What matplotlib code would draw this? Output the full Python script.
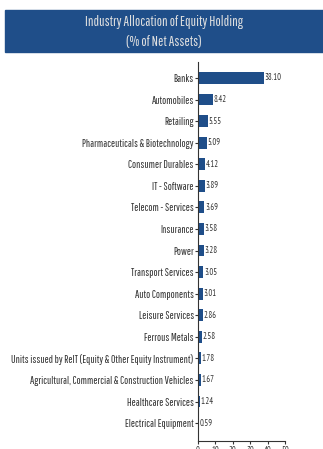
import matplotlib
matplotlib.use("Agg")
import matplotlib.pyplot as plt
from matplotlib.patches import Rectangle

categories = [
    "Banks", "Automobiles", "Retailing", "Pharmaceuticals & Biotechnology",
    "Consumer Durables", "IT - Software", "Telecom - Services", "Insurance",
    "Power", "Transport Services", "Auto Components", "Leisure Services",
    "Ferrous Metals", "Units issued by ReIT (Equity & Other Equity Instrument)",
    "Agricultural, Commercial & Construction Vehicles", "Healthcare Services",
    "Electrical Equipment",
]
values = [38.10, 8.42, 5.55, 5.09, 4.12, 3.89, 3.69, 3.58, 3.28, 3.05, 3.01,
          2.86, 2.58, 1.78, 1.67, 1.24, 0.59]
xticks = [0, 10, 20, 30, 40, 50]
title_lines = ["Industry Allocation of Equity Holding", "(% of Net Assets)"]

plt.rcParams['font.family'] = ['Pathway Gothic One', 'DejaVu Sans']
num_font = ['PT Sans Narrow', 'DejaVu Sans']  # keeps decimal points visible

blue = "#1f4e89"
textc = "#333333"

fig = plt.figure(figsize=(3.23, 4.49), dpi=100)
renderer = fig.canvas.get_renderer()

def fit(t, width_px):
    # shrink/grow font so the text is width_px wide
    w = t.get_window_extent(renderer).width
    t.set_fontsize(t.get_fontsize() * width_px / w)

# title band
fig.patches.append(Rectangle((5 / 323, 1 - 52 / 449), 318 / 323, 42 / 449,
                             transform=fig.transFigure, color=blue, zorder=0))
t1 = fig.text(164 / 323, 1 - 22 / 449, title_lines[0], ha="center", va="center",
              color="#e0e0e0", fontsize=10)
fit(t1, 157)
fig.text(164 / 323, 1 - 41 / 449, title_lines[1], ha="center", va="center",
         color="#e0e0e0", fontsize=t1.get_fontsize())

ax = fig.add_axes([198 / 323, 1 - 441 / 449, 87 / 323, 379 / 449])
ypos = list(range(len(categories)))
ax.barh(ypos, values, height=0.55, color=blue)
vals = []
for y, v in zip(ypos, values):
    vals.append(ax.text(v + 0.3, y, f"{v:.2f}", va="center", ha="left",
                        fontsize=7, color=textc, family=num_font))
fit(vals[0], 17)
for t in vals[1:]:
    t.set_fontsize(vals[0].get_fontsize())

ax.set_ylim(len(categories) - 1 + 0.83, -0.74)
ax.set_xlim(0, 50)
ax.set_yticks(ypos)
ax.set_yticklabels(categories, fontsize=7, color=textc)
ax.set_xticks(xticks)
ax.set_xticklabels([str(t) for t in xticks], fontsize=vals[0].get_fontsize(),
                   color=textc, family=num_font)
ax.tick_params(axis="y", length=2, width=0.8, pad=1, color="#333333")
ax.tick_params(axis="x", length=2.5, width=0.8, pad=1, color="#333333")
for s in ["top", "right"]:
    ax.spines[s].set_visible(False)
for s in ["left", "bottom"]:
    ax.spines[s].set_color("#333333")
    ax.spines[s].set_linewidth(0.8)

labs = ax.get_yticklabels()
fig.canvas.draw()
fs = 7 * 183 / max(l.get_window_extent(renderer).width for l in labs)
for l in labs:
    l.set_fontsize(fs)

fig.savefig("out.png", dpi=100)
